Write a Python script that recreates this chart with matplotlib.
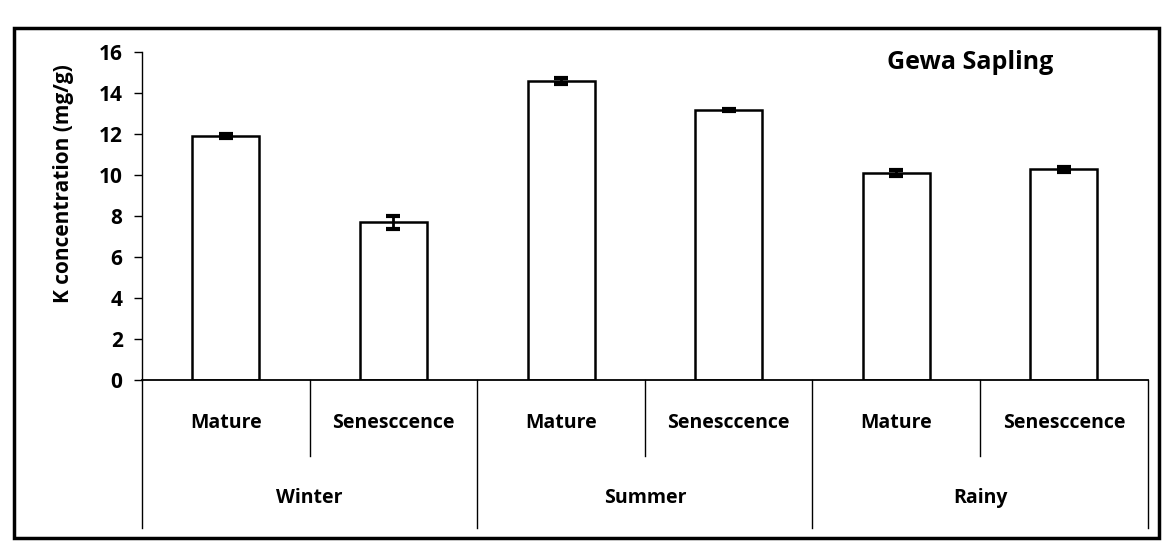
import matplotlib.pyplot as plt
from matplotlib.patches import Rectangle
import matplotlib.transforms as mtrans

# data
seasons = ["Winter", "Summer", "Rainy"]
stages = ["Mature", "Senesccence"]
k_values = [11.9, 7.7, 14.6, 13.2, 10.1, 10.3]
k_errors = [0.1, 0.3, 0.15, 0.05, 0.15, 0.12]

plt.rcParams['font.family'] = ['Open Sans', 'DejaVu Sans']

fig = plt.figure(figsize=(11.64, 5.44), dpi=100)
ax = fig.add_axes([0.122, 0.301, 0.864, 0.603])

x = list(range(len(k_values)))
ax.bar(x, k_values, width=0.4, color="white", edgecolor="black", linewidth=1.8)
ax.errorbar(x, k_values, yerr=k_errors, fmt="none", ecolor="black",
            elinewidth=2, capsize=5, capthick=3)

ax.set_xlim(-0.5, len(k_values) - 0.5)
ax.set_ylim(0, 16)
ax.set_yticks(range(0, 17, 2))
ax.tick_params(axis="y", labelsize=15, width=1, length=6, direction="out", pad=8)
for lab in ax.get_yticklabels():
    lab.set_fontweight("bold")
ax.set_xticks([])
ax.spines["top"].set_visible(False)
ax.spines["right"].set_visible(False)
ax.spines["left"].set_linewidth(1)
ax.spines["bottom"].set_linewidth(1.3)
ax.set_ylabel("K concentration (mg/g)", fontsize=15, fontweight="bold")
ax.yaxis.set_label_coords(-0.068, 0.6)

# two-level category axis like Excel
trans = mtrans.blended_transform_factory(ax.transData, ax.transAxes)
n_st = len(stages)
for i in range(len(k_values)):
    ax.text(i, -0.13, stages[i % n_st], transform=trans, ha="center", va="center",
            fontsize=14, fontweight="bold")
for j, s in enumerate(seasons):
    ax.text(j * n_st + (n_st - 1) / 2, -0.36, s, transform=trans, ha="center",
            va="center", fontsize=14, fontweight="bold")
for i in range(len(k_values) + 1):
    xb = i - 0.5
    if i % n_st == 0:
        ax.plot([xb, xb], [0, -0.45], transform=trans, color="black", lw=1,
                clip_on=False)
    else:
        ax.plot([xb, xb], [0, -0.23], transform=trans, color="black", lw=1,
                clip_on=False)

ax.text(0.823, 0.97, "Gewa Sapling", transform=ax.transAxes, ha="center",
        va="center", fontsize=18, fontweight="bold")

# chart border
fig.patches.append(Rectangle((0.012, 0.011), 0.984, 0.938, transform=fig.transFigure,
                             fill=False, edgecolor="black", linewidth=2.5))

fig.savefig("out.png", dpi=100)
